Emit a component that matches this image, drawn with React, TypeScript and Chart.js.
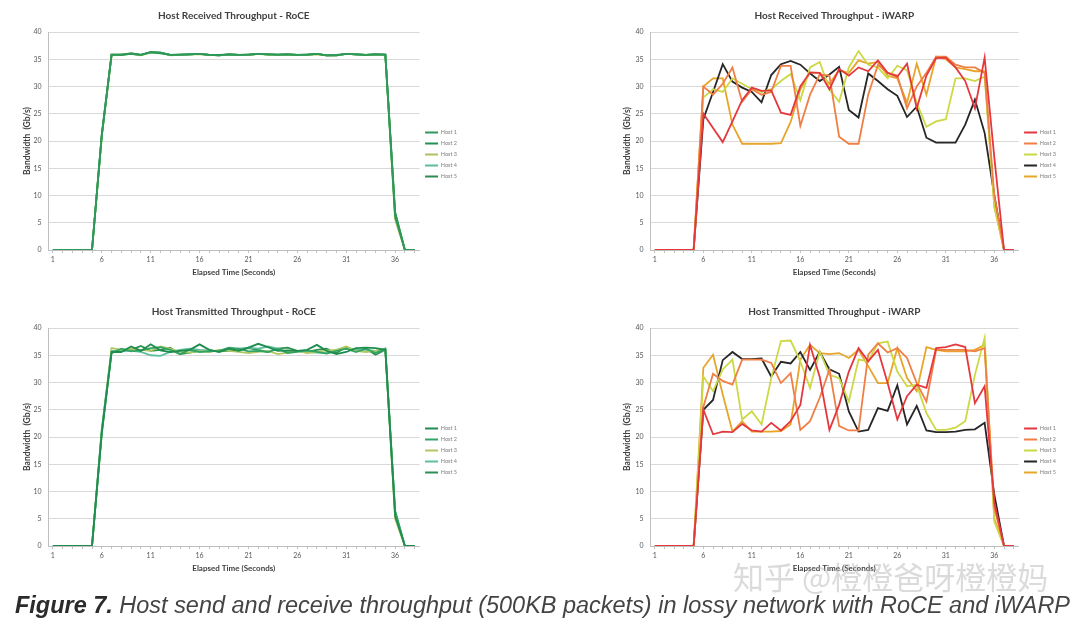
import React, { useEffect, useLayoutEffect, useRef } from 'react';
import { Chart, registerables } from 'chart.js';

Chart.register(...registerables);

// ---------- data ----------
const seconds = ['1','2','3','4','5','6','7','8','9','10','11','12','13','14','15','16','17','18','19','20','21','22','23','24','25','26','27','28','29','30','31','32','33','34','35','36','37','38'];
const shownSeconds = ['1','6','11','16','21','26','31','36'];
const hostNames = ['Host 1', 'Host 2', 'Host 3', 'Host 4', 'Host 5'];
const bandwidthTicks = [0, 5, 10, 15, 20, 25, 30, 35, 40];

const roceRecvHost1 = [0,0,0,0,0,21,35.8,35.8,36.0,35.8,36.3,36.2,35.8,35.8,35.9,36.0,35.8,35.7,35.9,35.8,35.8,36.0,35.9,35.8,35.9,35.8,35.8,36.0,35.7,35.7,36.0,35.9,35.8,35.9,35.8,6.8,0,0];
const roceRecvHost2 = [0,0,0,0,0,21.2,35.9,35.8,36.1,35.8,36.3,36.1,35.8,35.9,35.9,36.0,35.8,35.8,35.9,35.8,35.9,36.0,35.9,35.9,35.9,35.8,35.9,36.0,35.7,35.8,36.0,35.9,35.8,35.9,35.9,6.2,0,0];
const roceRecvHost3 = [0,0,0,0,0,20.8,35.7,35.9,36.0,35.7,36.2,36.2,35.7,35.8,35.9,35.9,35.8,35.7,35.9,35.8,35.8,36.0,35.8,35.8,35.9,35.8,35.8,35.9,35.7,35.7,36.0,35.9,35.8,35.8,35.8,5.6,0,0];
const roceRecvHost4 = [0,0,0,0,0,21.0,35.8,35.8,36.0,35.8,36.2,36.2,35.8,35.8,35.9,36.0,35.8,35.7,35.9,35.8,35.8,36.0,35.9,35.8,35.9,35.8,35.8,36.0,35.7,35.7,36.0,35.9,35.8,35.9,35.8,6.0,0,0];
const roceRecvHost5 = [0,0,0,0,0,21.1,35.8,35.9,36.0,35.8,36.3,36.2,35.8,35.8,35.9,36.0,35.8,35.7,35.9,35.8,35.8,36.0,35.9,35.8,35.9,35.8,35.8,36.0,35.7,35.7,36.0,35.9,35.8,35.9,35.8,7.0,0,0];

const iwarpRecvHost1 = [0,0,0,0,0,25,22.4,19.8,23.6,27.5,29.8,29.2,29.3,25.2,24.8,30,32.6,32.5,29.5,33.2,32,33.5,32.8,34.8,32.5,31.8,34.2,26,32,35.2,35.3,33.5,31,26,35.3,17,0,0];
const iwarpRecvHost2 = [0,0,0,0,0,30,28.5,30.5,33.5,27.2,29.5,28.5,29,33.8,33.8,22.8,28.5,32.2,32,20.8,19.5,19.5,28.5,34,32.5,32,26,30,32.5,35.5,35.5,34,33.5,33.5,32.5,10,0,0];
const iwarpRecvHost3 = [0,0,0,0,0,28,29.5,29,31.5,30.5,29.5,29,29.5,31,32.3,27.5,33.5,34.5,29.5,27.2,33.5,36.5,34,33.5,31.5,33.8,33,27,22.6,23.6,24,31.5,31.5,31,31.8,8,0,0];
const iwarpRecvHost4 = [0,0,0,0,0,24,29,34.1,30.9,29.8,29,27.1,32.1,34.1,34.7,34,32.4,31,32.2,33.6,25.7,24.3,32.4,31,29.5,28.3,24.4,26.3,20.6,19.7,19.7,19.7,23,27.6,21.5,10,0,0];
const iwarpRecvHost5 = [0,0,0,0,0,30,31.5,31.5,23,19.5,19.5,19.5,19.5,19.6,23.5,29.5,32.5,32.5,30.5,33,32.5,34.8,34.2,34.5,32,31.5,27,34.2,28.5,35.5,35,33.5,33.2,32.8,32.8,8,0,0];

const roceSendHost1 = [0,0,0,0,0,21,35.6,35.6,36.6,35.8,37.0,35.9,35.6,35.8,36.0,37.0,36.0,35.6,36.2,35.8,36.4,37.1,36.5,35.8,35.9,35.8,36.0,36.9,35.8,35.2,35.6,36.3,36.4,36.3,36.0,5.5,0,0];
const roceSendHost2 = [0,0,0,0,0,20.5,35.4,36.2,35.7,35.9,36.3,36.5,36.0,35.2,36.0,35.6,35.7,35.8,36.4,36.2,35.7,35.8,35.6,36.2,35.4,35.6,35.9,35.6,35.3,35.8,36.2,35.6,36.2,35.4,36.2,6.5,0,0];
const roceSendHost3 = [0,0,0,0,0,21,36.3,36.0,36.2,36.0,35.8,36.6,36.2,35.6,35.5,35.8,35.6,36.0,35.8,35.6,35.4,35.6,35.8,35.2,35.5,35.8,35.4,35.6,35.9,36.0,36.6,35.8,35.6,35.8,36.2,5.0,0,0];
const roceSendHost4 = [0,0,0,0,0,21.5,35.8,35.8,35.8,35.6,35.0,34.9,35.6,36.0,36.2,36.0,35.8,35.8,36.0,36.2,36.4,36.2,36.6,36.2,35.6,35.8,35.6,35.5,35.4,36.0,36.2,36.0,36.0,35.8,36.0,6.0,0,0];
const roceSendHost5 = [0,0,0,0,0,21,35.8,35.8,36.0,36.7,35.8,36.0,36.4,35.2,35.5,35.8,35.9,35.7,35.8,36.0,36.3,36.0,35.6,36.2,36.4,35.8,35.6,36.0,36.2,35.4,36.5,35.8,36.2,35.1,36.0,6.2,0,0];

const iwarpSendHost1 = [0,0,0,0,0,25,20.5,21,20.9,22.4,21.2,21,22.6,21.2,22.9,25.9,36.9,31,21.3,25.9,32,36.3,33.9,36,29.9,23.2,27.5,29.6,29,36.3,36.5,37,36.5,26.2,29.3,8,0,0];
const iwarpSendHost2 = [0,0,0,0,0,25.5,31.6,30.3,29.6,34.2,34.2,34.2,33.6,29.9,31.7,21.3,22.9,27.2,32.4,22,21.2,21.2,35.1,37.2,35.5,36.3,34.5,29.9,26.5,36,36,36,36,35.7,36.3,7,0,0];
const iwarpSendHost3 = [0,0,0,0,0,31.1,28.4,32.4,34.2,23.2,24.7,22.3,30.8,37.6,37.7,33.9,29,35.7,31.4,30.8,26.5,34.2,33.9,37.2,37.5,32,29.3,29.6,24.4,21.3,21.3,21.7,22.9,31.4,38.2,4.5,0,0];
const iwarpSendHost4 = [0,0,0,0,0,25,26.8,34.1,35.6,34.3,34.3,34.4,31.1,33.8,33.5,35.6,32.3,35.6,32.4,31.6,24.7,21,21.3,25.3,24.8,29.5,22.3,25.7,21.2,20.9,20.9,21,21.3,21.4,22.6,9.4,0,0];
const iwarpSendHost5 = [0,0,0,0,0,32.7,35.1,27.8,21,22.9,21,21,21,21.1,22.3,34.2,36.9,35.4,35.2,35.4,34.5,36,33,29.9,29.9,36.3,30.8,28.4,36.5,36,35.7,35.7,35.7,36,36.9,5,0,0];

const roceRecvColors = ['#2e9a5a', '#23914f', '#a9c45e', '#5dbb98', '#2b8c4c'];
const roceSendColors = ['#1f8c50', '#33a463', '#b0c862', '#5cc09f', '#2a9150'];
const iwarpColors = ['#e5383e', '#ef7f45', '#ccd944', '#262626', '#e8a52a'];

const FONT = 'Lato, "Open Sans", "Liberation Sans", sans-serif';

type PanelProps = {
  title: string;
  series: number[][];
  colors: string[];
  left: number;
  top: number;
  side: 'left' | 'right';
};

function Panel({ title, series, colors, left, top, side }: PanelProps) {
  const ref = useRef<HTMLCanvasElement>(null);
  useEffect(() => {
    const isLeft = side === 'left';
    const padL = isLeft ? 19.9 : 79.9;
    const axisW = isLeft ? 28.1 : 30.1;
    const padR = isLeft ? 73 : 14;
    const chart = new Chart(ref.current as HTMLCanvasElement, {
      type: 'line',
      data: {
        labels: seconds,
        datasets: series.map((d, i) => ({
          label: hostNames[i],
          data: d,
          borderColor: colors[i],
          backgroundColor: colors[i],
          borderWidth: 1.8,
          pointRadius: 0,
          tension: 0,
          fill: false,
        })),
      },
      options: {
        responsive: false,
        animation: false,
        devicePixelRatio: 1,
        layout: { padding: { left: padL, right: padR, top: 0, bottom: 13 } },
        plugins: {
          title: {
            display: true,
            text: title,
            fullSize: false,
            color: '#404040',
            font: { family: FONT, size: 10, weight: 'bold' },
            padding: { top: 10, bottom: 10 },
          },
          legend: {
            position: 'right',
            title: { display: true, text: ' ', font: { size: 1, lineHeight: 1 }, padding: { top: 31, bottom: 0 } },
            labels: {
              usePointStyle: true,
              pointStyle: 'line',
              pointStyleWidth: 13,
              boxHeight: 5.5,
              padding: 5.5,
              color: '#7f7f7f',
              font: { family: FONT, size: 5.5, lineHeight: 1.15 },
            },
          },
          tooltip: { enabled: false },
        },
        scales: {
          x: {
            type: 'category',
            offset: true,
            grid: { drawOnChartArea: false, drawTicks: true, tickLength: 3, color: '#bfbfbf' },
            border: { color: '#bfbfbf' },
            ticks: {
              autoSkip: false,
              maxRotation: 0,
              padding: 3,
              color: '#595959',
              font: { family: FONT, size: 7 },
              callback: (_v: any, index: number) => (shownSeconds.includes(seconds[index]) ? seconds[index] : ''),
            },
            title: {
              display: true,
              text: 'Elapsed Time (Seconds)',
              color: '#404040',
              font: { family: FONT, size: 8, weight: 'bold' },
              padding: { top: 0, bottom: 0 },
            },
            afterFit: (s: any) => { s.height = 27; },
          },
          y: {
            min: bandwidthTicks[0],
            max: bandwidthTicks[bandwidthTicks.length - 1],
            ticks: {
              stepSize: bandwidthTicks[1] - bandwidthTicks[0],
              padding: 6.5,
              color: '#595959',
              font: { family: FONT, size: 7 },
            },
            grid: { color: '#d9d9d9', drawTicks: false },
            border: { color: '#bfbfbf' },
            title: {
              display: true,
              text: 'Bandwidth  (Gb/s)',
              color: '#404040',
              font: { family: FONT, size: 8.5, weight: 'bold' },
              padding: { top: 2, bottom: 0 },
            },
            afterFit: (s: any) => { s.width = axisW; },
          },
        },
      } as any,
    });
    return () => chart.destroy();
  }, []);
  return (
    <canvas
      ref={ref}
      width={540}
      height={290}
      style={{ position: 'absolute', left, top, width: 540, height: 290 }}
    />
  );
}

function Caption() {
  const ref = useRef<HTMLDivElement>(null);
  useLayoutEffect(() => {
    const el = ref.current as HTMLDivElement;
    el.style.transform = 'none';
    const w = el.getBoundingClientRect().width;
    el.style.transform = `scaleX(${1055 / w})`;
  }, []);
  return (
    <div
      ref={ref}
      style={{
        position: 'absolute',
        left: 15,
        top: 594,
        whiteSpace: 'nowrap',
        transformOrigin: 'left top',
        fontFamily: '"Liberation Sans", Arial, sans-serif',
        fontStyle: 'italic',
        fontSize: 23,
        lineHeight: '23px',
        color: '#444',
      }}
    >
      <span style={{ fontWeight: 'bold', color: '#2b2b2b' }}>Figure 7.</span> Host send and receive throughput (500KB packets) in lossy network with RoCE and iWARP
    </div>
  );
}

export default function App() {
  return (
    <div style={{ position: 'absolute', left: 0, top: 0, width: 1080, height: 633, background: '#fff', overflow: 'hidden' }}>
      <Panel title="Host Received Throughput - RoCE" series={[roceRecvHost1, roceRecvHost2, roceRecvHost3, roceRecvHost4, roceRecvHost5]} colors={roceRecvColors} left={0} top={0} side="left" />
      <Panel title="Host Received Throughput - iWARP" series={[iwarpRecvHost1, iwarpRecvHost2, iwarpRecvHost3, iwarpRecvHost4, iwarpRecvHost5]} colors={iwarpColors} left={540} top={0} side="right" />
      <Panel title="Host Transmitted Throughput - RoCE" series={[roceSendHost1, roceSendHost2, roceSendHost3, roceSendHost4, roceSendHost5]} colors={roceSendColors} left={0} top={296} side="left" />
      <Panel title="Host Transmitted Throughput - iWARP" series={[iwarpSendHost1, iwarpSendHost2, iwarpSendHost3, iwarpSendHost4, iwarpSendHost5]} colors={iwarpColors} left={540} top={296} side="right" />
      <div
        style={{
          position: 'absolute',
          left: 733,
          top: 560,
          fontFamily: '"Noto Sans CJK SC", sans-serif',
          fontSize: 31,
          lineHeight: '32px',
          whiteSpace: 'nowrap',
          color: 'rgba(175,175,175,0.45)',
        }}
      >
        知乎 @橙橙爸呀橙橙妈
      </div>
      <Caption />
    </div>
  );
}
